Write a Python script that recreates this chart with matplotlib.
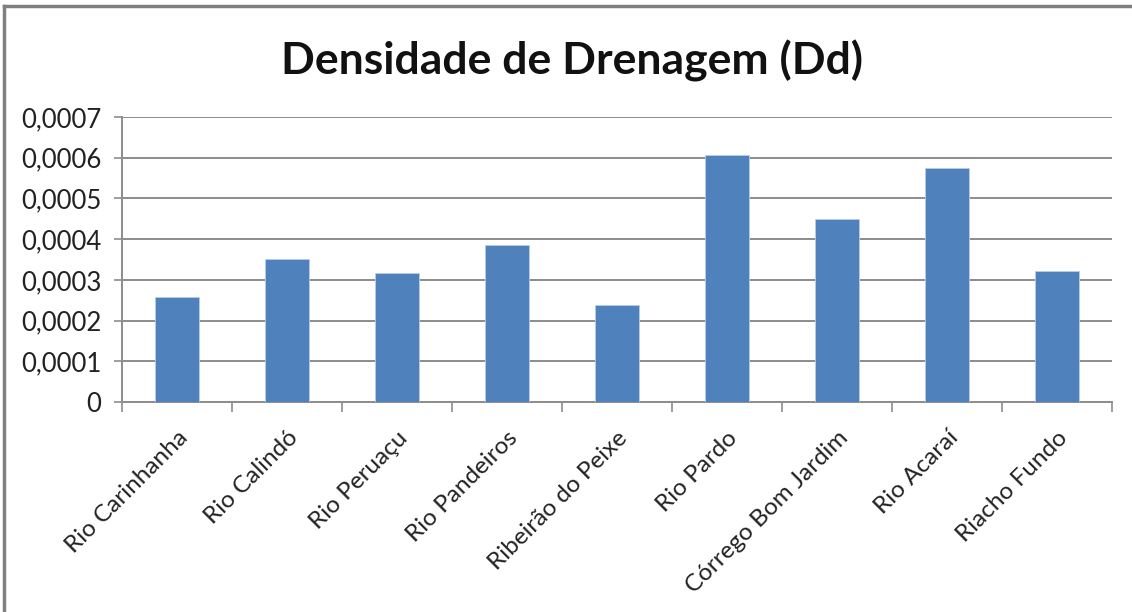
import matplotlib.pyplot as plt
from matplotlib.lines import Line2D

rivers = ["Rio Carinhanha", "Rio Calindó", "Rio Peruaçu", "Rio Pandeiros",
          "Ribeirão do Peixe", "Rio Pardo", "Córrego Bom Jardim", "Rio Acaraí",
          "Riacho Fundo"]
dd = [0.000257, 0.000351, 0.000317, 0.000385, 0.000238, 0.000607, 0.000449,
      0.000575, 0.000323]
y_ticks = [0, 0.0001, 0.0002, 0.0003, 0.0004, 0.0005, 0.0006, 0.0007]
y_labels = ["0", "0,0001", "0,0002", "0,0003", "0,0004", "0,0005", "0,0006", "0,0007"]

plt.rcParams['font.family'] = ['Lato', 'DejaVu Sans']

fig = plt.figure(figsize=(11.32, 6.12), dpi=100)
ax = fig.add_axes([0.1078, 0.3431, 0.8745, 0.4657])

x = list(range(len(rivers)))
ax.bar(x, dd, width=0.4, color="#4F81BD", edgecolor="#B9CDE5", linewidth=0.6, zorder=3)

ax.set_xlim(-0.5, len(rivers) - 0.5)
ax.set_ylim(0, 0.0007)
ax.set_yticks(y_ticks)
ax.set_yticklabels(y_labels, fontsize=18.5, color="#222222")
ax.yaxis.grid(True, color="#8C8C8C", linewidth=1.4, zorder=0)

ax.set_xticks(x)
ax.set_xticklabels(rivers, rotation=45, ha="right", va="top",
                   rotation_mode="anchor", fontsize=17.5, color="#222222")
ax.set_xticks([i - 0.5 for i in range(len(rivers) + 1)], minor=True)
ax.tick_params(axis="x", which="major", length=0, pad=18)
ax.tick_params(axis="x", which="minor", length=7, width=1.2, color="#8C8C8C")
ax.tick_params(axis="y", length=6, width=1.2, color="#8C8C8C", pad=9)

for s in ["top", "right"]:
    ax.spines[s].set_visible(False)
for s in ["left", "bottom"]:
    ax.spines[s].set_color("#8C8C8C")
    ax.spines[s].set_linewidth(1.4)

fig.text(0.505, 0.9, "Densidade de Drenagem (Dd)", ha="center", va="center",
         fontsize=32, fontweight="bold", color="#111111")

# chart frame
fig.add_artist(Line2D([4 / 1132, 4 / 1132], [0, 1 - 6 / 612], transform=fig.transFigure,
                      color="#808080", linewidth=2.5))
fig.add_artist(Line2D([4 / 1132, 1], [1 - 6 / 612, 1 - 6 / 612], transform=fig.transFigure,
                      color="#808080", linewidth=2.5))

fig.savefig("out.png", dpi=100)
